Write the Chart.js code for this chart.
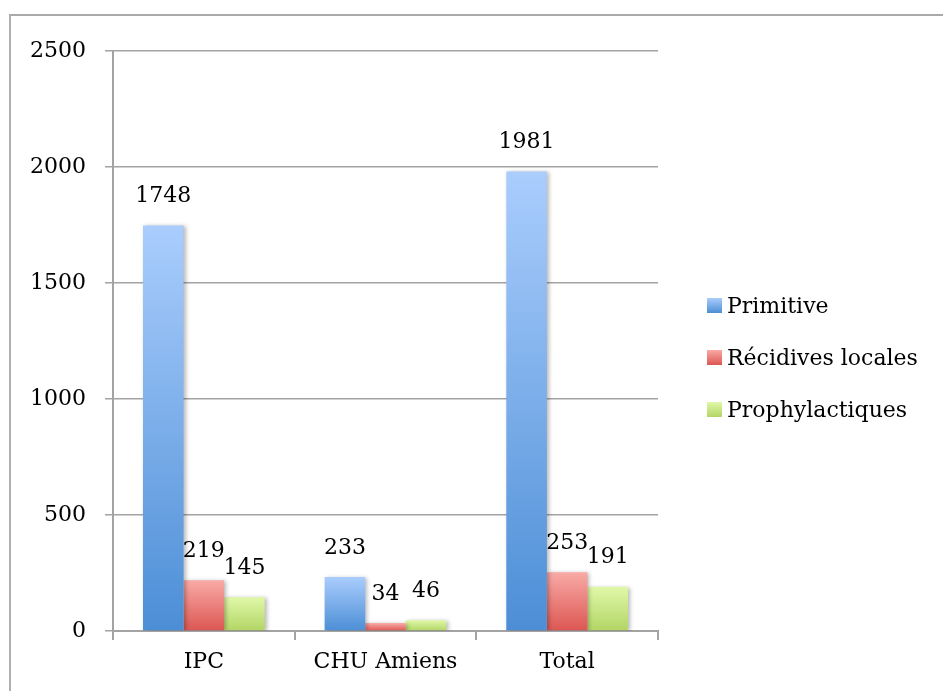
<!DOCTYPE html>
<html>
<head>
<meta charset="utf-8">
<script src="https://cdn.jsdelivr.net/npm/chart.js@4.4.0/dist/chart.umd.min.js"></script>
<style>
  body { margin: 0; background: #fff; overflow: hidden; }
  #wrap { position: relative; width: 943px; height: 691px; }
  #cadre { position: absolute; left: 9px; top: 14px; width: 1000px; height: 1000px;
           border-top: 2px solid #a9a9a9; border-left: 2px solid #b0b0b0; }
  #graph { position: absolute; left: 0; top: 0; }
</style>
</head>
<body>
<div id="wrap">
  <div id="cadre"></div>
  <canvas id="graph" width="943" height="691"></canvas>
</div>
<script>
// Données
var categories = ["IPC", "CHU Amiens", "Total"];
var seriesNames = ["Primitive", "Récidives locales", "Prophylactiques"];
var primitive = [1748, 233, 1981];
var recidives = [219, 34, 253];
var prophylactiques = [145, 46, 191];
var yTicks = [0, 500, 1000, 1500, 2000, 2500];

// couleurs du dégradé (haut, bas) pour chaque série
var degrades = [
    ["#aacdfd", "#4c8ed6"],
    ["#f9aaa6", "#dc5652"],
    ["#e0f8a8", "#b2d565"]
];

Chart.defaults.font.family = "'DejaVu Serif', serif";
Chart.defaults.font.size = 22;
Chart.defaults.color = "#000";

//Dégradé vertical propre à chaque barre
function barGradient(i) {
    return function(c) {
        var chart = c.chart;
        if (!chart.chartArea || c.raw === undefined) return degrades[i][0];
        var y = chart.scales.y;
        var top = y.getPixelForValue(c.raw);
        var base = y.getPixelForValue(0);
        if (base - top < 1) top = base - 1;
        var g = chart.ctx.createLinearGradient(0, top, 0, base);
        g.addColorStop(0, degrades[i][0]);
        g.addColorStop(1, degrades[i][1]);
        return g;
    };
}

//Ombre légère derrière les barres
var ombre = {
    id: "ombre",
    beforeDatasetsDraw: function(chart) {
        var ctx = chart.ctx;
        ctx.save();
        ctx.shadowColor = "rgba(0,0,0,0.28)";
        ctx.shadowBlur = 4;
        ctx.shadowOffsetX = 2;
        ctx.shadowOffsetY = 1;
    },
    afterDatasetsDraw: function(chart) {
        chart.ctx.restore();
    }
};

//Valeurs au-dessus des barres
var etiquettes = {
    id: "etiquettes",
    afterDatasetsDraw: function(chart) {
        var ctx = chart.ctx;
        ctx.save();
        ctx.font = "22px 'DejaVu Serif', serif";
        ctx.fillStyle = "#000";
        ctx.textAlign = "center";
        ctx.textBaseline = "middle";
        chart.data.datasets.forEach(function(ds, i) {
            chart.getDatasetMeta(i).data.forEach(function(el, j) {
                ctx.fillText(String(ds.data[j]), el.x, el.y - 29);
            });
        });
        ctx.restore();
    }
};

//Légende à droite
var legende = {
    id: "legende",
    afterDraw: function(chart) {
        var ctx = chart.ctx;
        ctx.save();
        ctx.font = "22px 'DejaVu Serif', serif";
        ctx.fillStyle = "#000";
        ctx.textBaseline = "middle";
        chart.data.datasets.forEach(function(ds, i) {
            var y = 298 + i * 52;
            var g = ctx.createLinearGradient(0, y, 0, y + 15);
            g.addColorStop(0, degrades[i][0]);
            g.addColorStop(1, degrades[i][1]);
            ctx.fillStyle = g;
            ctx.fillRect(707, y, 15, 15);
            ctx.fillStyle = "#000";
            ctx.fillText(ds.label, 727, y + 9);
        });
        ctx.restore();
    }
};

var series = [primitive, recidives, prophylactiques];
var datasets = series.map(function(vals, i) {
    return {
        label: seriesNames[i],
        data: vals,
        backgroundColor: barGradient(i),
        borderWidth: 0,
        categoryPercentage: 0.67,
        barPercentage: 1.0
    };
});

var ctx = document.getElementById("graph").getContext("2d");
window.myChart = new Chart(ctx, {
    type: "bar",
    data: { labels: categories, datasets: datasets },
    plugins: [ombre, etiquettes, legende],
    options: {
        responsive: false,
        animation: false,
        devicePixelRatio: 1,
        layout: { padding: { left: 0, top: 51, right: 285, bottom: 0 } },
        plugins: {
            legend: { display: false },
            tooltip: { enabled: false }
        },
        scales: {
            y: {
                min: 0,
                max: 2500,
                afterFit: function(s) { s.width = 113; },
                afterBuildTicks: function(s) {
                    s.ticks = yTicks.map(function(v) { return { value: v }; });
                },
                ticks: {
                    padding: 19,
                    color: "#000",
                    callback: function(v) { return String(v); }
                },
                grid: { color: "#a3a3a3", lineWidth: 1.5, tickLength: 8 },
                border: { color: "#a3a3a3", width: 2 }
            },
            x: {
                afterFit: function(s) { s.height = 60; },
                ticks: { padding: 9, color: "#000" },
                grid: { drawOnChartArea: false, color: "#a3a3a3", lineWidth: 2, tickLength: 9, offset: true },
                border: { color: "#a3a3a3", width: 2 }
            }
        }
    }
});
</script>
</body>
</html>
